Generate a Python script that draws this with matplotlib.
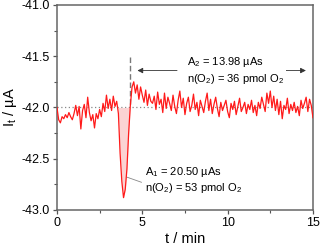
import matplotlib.pyplot as plt
import numpy as np

plt.rcParams['font.family'] = ['Liberation Sans', 'DejaVu Sans']
plt.rcParams['mathtext.fontset'] = 'custom'
plt.rcParams['mathtext.rm'] = 'Liberation Sans'

# current trace, sampled every 0.1 min from 0 to 15 min
current = [
    -42.00, -42.12, -42.15, -42.09, -42.11, -42.07, -42.10, -42.05, -42.09, -42.12,
    -42.06, -41.98, -42.08, -41.99, -42.21, -42.03, -41.97, -42.10, -41.90, -42.05,
    -42.13, -42.07, -42.20, -42.06, -42.11, -42.02, -42.09, -41.96, -42.04, -41.88,
    -42.01, -41.92, -42.03, -41.89, -41.99, -41.94, -42.06, -42.45, -42.72, -42.88,
    -42.80, -42.60, -42.25, -41.98, -41.80, -41.75, -41.86, -41.78, -41.92, -41.80,
    -41.88, -41.95, -41.83, -41.98, -41.87, -41.94, -41.96, -41.89, -42.02, -41.85,
    -41.97, -41.92, -42.05, -41.86, -42.01, -41.90, -41.96, -42.03, -41.88, -41.99,
    -42.06, -41.93, -41.84, -42.00, -41.91, -42.07, -41.96, -41.90, -42.04, -41.98,
    -41.87, -42.02, -41.95, -42.08, -41.93, -41.99, -42.05, -41.94, -41.86, -42.03,
    -41.92, -42.06, -41.97, -41.90, -42.01, -42.09, -41.95, -42.03, -41.98, -41.93,
    -42.04, -42.10, -41.96, -42.02, -41.94, -42.07, -41.99, -41.91, -42.04, -42.00,
    -41.95, -42.06, -41.97, -42.02, -41.93, -42.05, -41.98, -42.08, -41.95, -42.01,
    -41.90, -41.97, -42.04, -41.86, -41.96, -41.84, -42.00, -41.89, -42.03, -41.92,
    -42.07, -41.94, -42.11, -41.98, -42.02, -41.91, -42.06, -41.97, -42.03, -41.95,
    -42.05, -41.99, -42.08, -41.93, -42.01, -41.96, -41.90, -42.04, -41.92, -41.98,
    -42.10,
]
t = np.arange(len(current)) * 0.1
current = np.array(current)
baseline = -42.0
peak1_window = (3.55, 4.35)
peak2_start = 4.3

label_A1 = '$\\mathregular{A_1}$ = 20.50 µAs\n$\\mathregular{n(O_2)}$ = 53 pmol $\\mathregular{O_2}$'
label_A2 = '$\\mathregular{A_2}$ = 13.98 µAs\n$\\mathregular{n(O_2)}$ = 36 pmol $\\mathregular{O_2}$'

fig = plt.figure(figsize=(3.2, 2.47), dpi=100)
ax = fig.add_axes([0.178, 0.150, 0.800, 0.830])

ax.axhline(baseline, color='#888888', ls=(0, (1, 2)), lw=0.9, zorder=1)
sel = (t >= peak1_window[0]) & (t <= peak1_window[1])
ax.fill_between(t, current, baseline, where=sel & (current <= baseline), interpolate=True,
                color='#fbd3d3', lw=0, zorder=2)
ax.plot(t, current, color='#ff1a1a', lw=0.9, zorder=3)

# second region marker
ax.plot([peak2_start, peak2_start], [-41.51, baseline], color='#777777', ls=(0, (4, 2)), lw=1.0)
ax.annotate('', xy=(4.55, -41.64), xytext=(7.2, -41.64),
            arrowprops=dict(arrowstyle='-|>', color='#333333', lw=0.6, mutation_scale=8))
ax.annotate('', xy=(14.75, -41.64), xytext=(12.0, -41.64),
            arrowprops=dict(arrowstyle='-|>', color='#333333', lw=0.6, mutation_scale=8))
ax.text(7.6, -41.64, label_A2, fontsize=8, va='center', ha='left', linespacing=1.25,
        bbox=dict(facecolor='white', edgecolor='none', pad=1.5))

ax.plot([4.1, 4.95], [-42.68, -42.73], color='#888888', lw=0.6)
ax.text(5.15, -42.71, label_A1, fontsize=8, va='center', ha='left', linespacing=1.25)

ax.set_xlim(0, 15)
ax.set_ylim(-43.0, -41.0)
ax.set_xticks([0, 5, 10, 15])
ax.set_xticks([2.5, 7.5, 12.5], minor=True)
ax.set_yticks([-43.0, -42.5, -42.0, -41.5, -41.0])
ax.set_yticks([-42.75, -42.25, -41.75, -41.25], minor=True)
ax.set_yticklabels(['-43.0', '-42.5', '-42.0', '-41.5', '-41.0'])
ax.tick_params(labelsize=9, length=3, width=0.9, color='#555555', pad=2)
ax.tick_params(which='minor', length=2, width=0.8, color='#555555')
for s in ax.spines.values():
    s.set_color('#666666')
    s.set_linewidth(1.1)

ax.set_xlabel('t / min', fontsize=10.5, labelpad=2)
ax.set_ylabel('$\\mathregular{I_t}$ / µA', fontsize=10.5, labelpad=2)

plt.savefig('out.png', dpi=100)
